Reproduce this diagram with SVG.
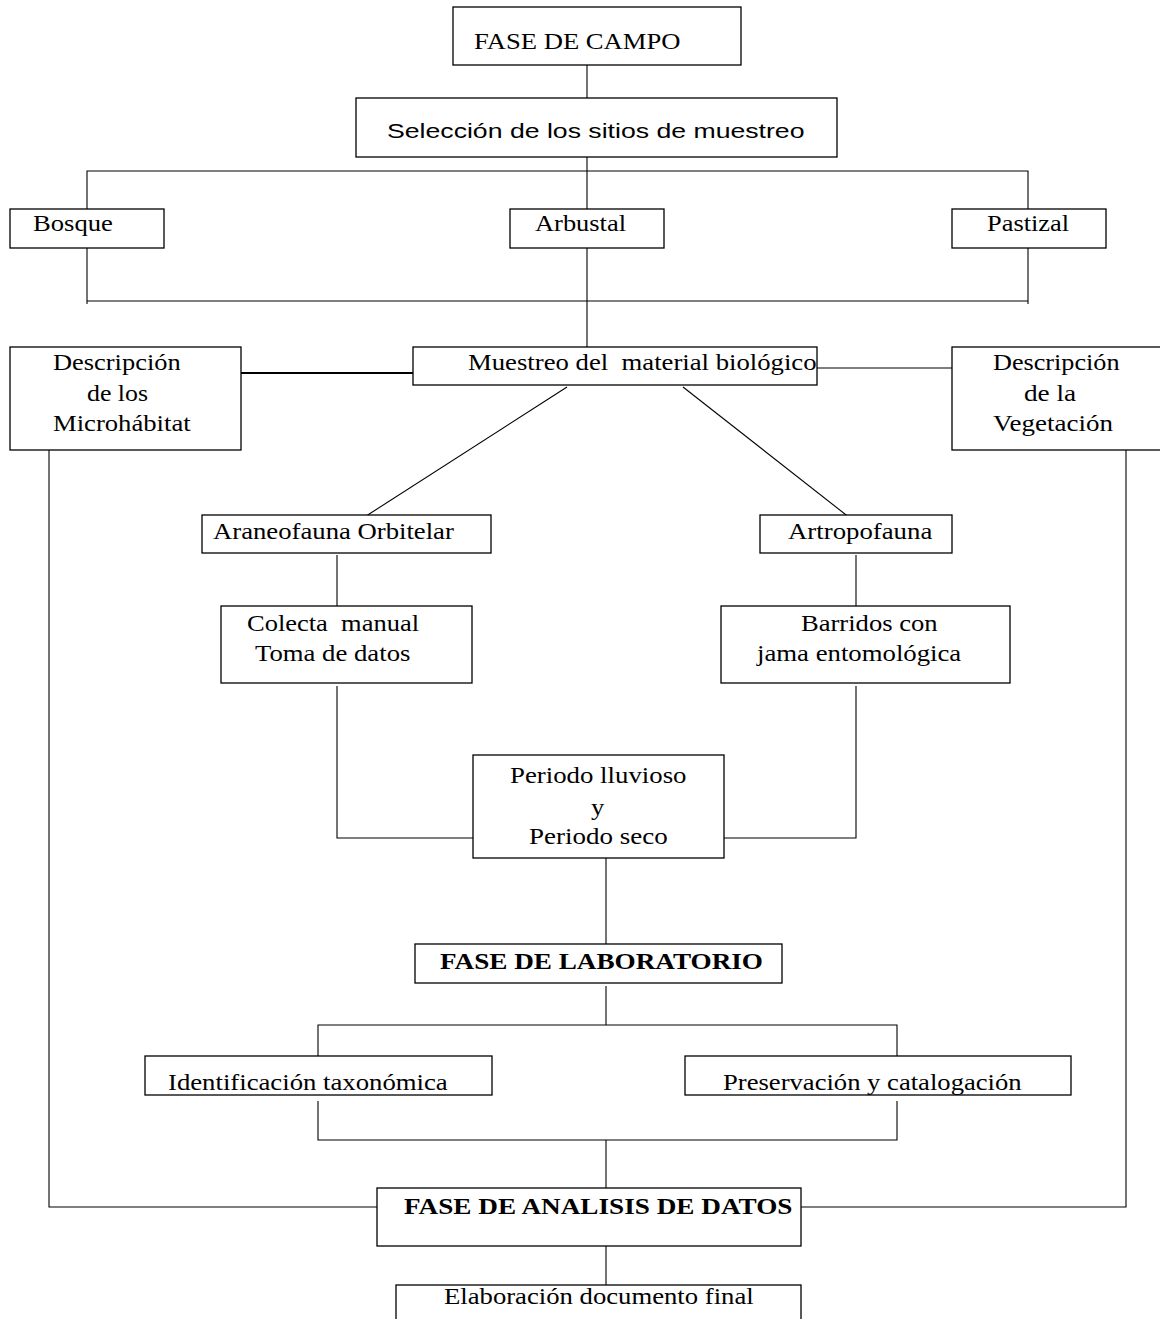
<svg xmlns="http://www.w3.org/2000/svg" width="1160" height="1319" viewBox="0 0 1160 1319">
<style>
rect{fill:#fff;stroke:#000;stroke-width:1.3}
.c line,.c polyline{stroke:#000;stroke-width:1.1;fill:none}
text{font-family:"Liberation Serif","Times New Roman",serif;font-size:24px;fill:#000}
.a{font-family:"Liberation Sans",Arial,sans-serif;font-size:21px}
.b{font-weight:bold;font-size:24px}
</style>
<rect x="0" y="0" width="1160" height="1319" style="fill:#fff;stroke:none"/>
<g class="c" id="connectors">
<line x1="587" y1="60" x2="587" y2="98"/>
<line x1="587" y1="152" x2="587" y2="347"/>
<polyline points="87,209 87,171 1028,171 1028,209"/>
<polyline points="87,248 87,304"/>
<polyline points="1028,248 1028,304"/>
<line x1="87" y1="301" x2="1028" y2="301"/>
<line x1="241" y1="373" x2="413" y2="373" style="stroke-width:2.2"/>
<line x1="817" y1="368" x2="952" y2="368"/>
<line x1="567" y1="387" x2="363" y2="518"/>
<line x1="683" y1="387" x2="850" y2="518"/>
<line x1="337" y1="555" x2="337" y2="613"/>
<line x1="856" y1="555" x2="856" y2="613"/>
<polyline points="337,686 337,838 473,838"/>
<polyline points="856,686 856,838 724,838"/>
<line x1="606" y1="858" x2="606" y2="944"/>
<line x1="606" y1="986" x2="606" y2="1025"/>
<polyline points="318,1063 318,1025 897,1025 897,1063"/>
<polyline points="318,1101 318,1140 897,1140 897,1101"/>
<line x1="606" y1="1140" x2="606" y2="1188"/>
<polyline points="49,450 49,1207 377,1207"/>
<polyline points="1126,450 1126,1207 801,1207"/>
<line x1="606" y1="1246" x2="606" y2="1285"/>
</g>
<g id="fase-campo"><rect x="453" y="7" width="288" height="58"/><text transform="translate(474,49) scale(1.11,1)" textLength="186" lengthAdjust="spacingAndGlyphs">FASE DE CAMPO</text></g>
<g id="seleccion"><rect x="356" y="98" width="481" height="59"/><text class="a" transform="translate(387,138) scale(1.25,1)" textLength="334" lengthAdjust="spacingAndGlyphs">Selección de los sitios de muestreo</text></g>
<g id="bosque"><rect x="10" y="209" width="154" height="39"/><text transform="translate(33,231) scale(1.11,1)" textLength="72" lengthAdjust="spacingAndGlyphs">Bosque</text></g>
<g id="arbustal"><rect x="510" y="209" width="154" height="39"/><text transform="translate(535,231) scale(1.11,1)" textLength="82" lengthAdjust="spacingAndGlyphs">Arbustal</text></g>
<g id="pastizal"><rect x="952" y="209" width="154" height="39"/><text transform="translate(987,231) scale(1.11,1)" textLength="74" lengthAdjust="spacingAndGlyphs">Pastizal</text></g>
<g id="microhabitat"><rect x="10" y="347" width="231" height="103"/>
<text transform="translate(53,370) scale(1.11,1)" textLength="115" lengthAdjust="spacingAndGlyphs">Descripción</text>
<text transform="translate(87,401) scale(1.11,1)" textLength="55" lengthAdjust="spacingAndGlyphs">de los</text>
<text transform="translate(53,431) scale(1.11,1)" textLength="124" lengthAdjust="spacingAndGlyphs">Microhábitat</text></g>
<g id="muestreo"><rect x="413" y="347" width="404" height="38"/><text transform="translate(468,370) scale(1.11,1)" textLength="314" lengthAdjust="spacingAndGlyphs" xml:space="preserve">Muestreo del  material biológico</text></g>
<g id="vegetacion"><rect x="952" y="347" width="220" height="103"/>
<text transform="translate(993,370) scale(1.11,1)" textLength="114" lengthAdjust="spacingAndGlyphs">Descripción</text>
<text transform="translate(1024,401) scale(1.11,1)" textLength="47" lengthAdjust="spacingAndGlyphs">de la</text>
<text transform="translate(993,431) scale(1.11,1)" textLength="108" lengthAdjust="spacingAndGlyphs">Vegetación</text></g>
<g id="araneofauna"><rect x="202" y="515" width="289" height="38"/><text transform="translate(213,539) scale(1.11,1)" textLength="217" lengthAdjust="spacingAndGlyphs">Araneofauna Orbitelar</text></g>
<g id="artropofauna"><rect x="760" y="515" width="192" height="38"/><text transform="translate(788,539) scale(1.11,1)" textLength="130" lengthAdjust="spacingAndGlyphs">Artropofauna</text></g>
<g id="colecta"><rect x="221" y="606" width="251" height="77"/>
<text transform="translate(247,631) scale(1.11,1)" textLength="155" lengthAdjust="spacingAndGlyphs" xml:space="preserve">Colecta  manual</text>
<text transform="translate(255,661) scale(1.11,1)" textLength="140" lengthAdjust="spacingAndGlyphs">Toma de datos</text></g>
<g id="barridos"><rect x="721" y="606" width="289" height="77"/>
<text transform="translate(801,631) scale(1.11,1)" textLength="123" lengthAdjust="spacingAndGlyphs">Barridos con</text>
<text transform="translate(757,661) scale(1.11,1)" textLength="184" lengthAdjust="spacingAndGlyphs">jama entomológica</text></g>
<g id="periodo"><rect x="473" y="755" width="251" height="103"/>
<text transform="translate(510,783) scale(1.11,1)" textLength="159" lengthAdjust="spacingAndGlyphs">Periodo lluvioso</text>
<text transform="translate(591,815) scale(1.11,1)">y</text>
<text transform="translate(529,844) scale(1.11,1)" textLength="125" lengthAdjust="spacingAndGlyphs">Periodo seco</text></g>
<g id="fase-laboratorio"><rect x="415" y="944" width="367" height="39"/><text class="b" transform="translate(440,969) scale(1.11,1)" textLength="291" lengthAdjust="spacingAndGlyphs">FASE DE LABORATORIO</text></g>
<g id="identificacion"><rect x="145" y="1056" width="347" height="39"/><text transform="translate(168,1090) scale(1.11,1)" textLength="252" lengthAdjust="spacingAndGlyphs">Identificación taxonómica</text></g>
<g id="preservacion"><rect x="685" y="1056" width="386" height="39"/><text transform="translate(723,1090) scale(1.11,1)" textLength="269" lengthAdjust="spacingAndGlyphs">Preservación y catalogación</text></g>
<g id="fase-analisis"><rect x="377" y="1188" width="424" height="58"/><text class="b" transform="translate(404,1214) scale(1.11,1)" textLength="350" lengthAdjust="spacingAndGlyphs">FASE DE ANALISIS DE DATOS</text></g>
<g id="elaboracion"><rect x="396" y="1285" width="405" height="60"/><text transform="translate(444,1304) scale(1.11,1)" textLength="279" lengthAdjust="spacingAndGlyphs">Elaboración documento final</text></g>
</svg>
